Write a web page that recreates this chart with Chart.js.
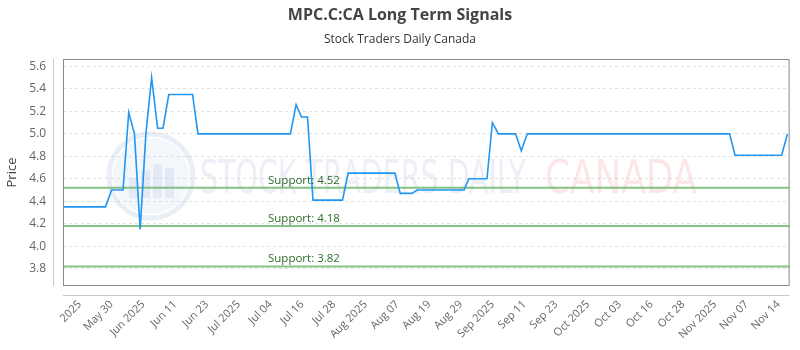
<!DOCTYPE html>
<html><head><meta charset="utf-8">
<script src="https://cdn.jsdelivr.net/npm/chart.js@4/dist/chart.umd.min.js"></script>
<style>html,body{margin:0;padding:0;background:#fff}#wrap{width:800px;height:350px}</style>
</head><body><div id="wrap"><canvas id="c" width="800" height="350"></canvas></div>
<script>
const chartTitle = 'MPC.C:CA Long Term Signals';
const chartSubtitle = 'Stock Traders Daily Canada';
const tickLabels = ['2025','May 30','Jun 2025','Jun 11','Jun 23','Jul 2025','Jul 04','Jul 16','Jul 28','Aug 2025','Aug 07','Aug 19','Aug 29','Sep 2025','Sep 11','Sep 23','Oct 2025','Oct 03','Oct 16','Oct 28','Nov 2025','Nov 07','Nov 14'];
const yTickValues = [3.8, 4.0, 4.2, 4.4, 4.6, 4.8, 5.0, 5.2, 5.4, 5.6];
// price path, x in tick-label units
const priceX = [-0.53, 0.81, 1.00, 1.36, 1.54, 1.72, 1.90, 2.08, 2.26, 2.45, 2.62, 2.80, 3.55, 3.72, 6.63, 6.81, 6.98, 7.17, 7.34, 8.27, 8.45, 9.92, 10.09, 10.46, 10.62, 12.10, 12.25, 12.82, 12.99, 13.18, 13.72, 13.90, 14.09, 20.46, 20.63, 22.10, 22.28];
const priceY = [4.35, 4.35, 4.50, 4.50, 5.19, 5.00, 4.15, 5.00, 5.50, 5.05, 5.05, 5.35, 5.35, 5.00, 5.00, 5.26, 5.15, 5.15, 4.41, 4.41, 4.65, 4.65, 4.47, 4.47, 4.50, 4.50, 4.60, 4.60, 5.10, 5.00, 5.00, 4.85, 5.00, 5.00, 4.81, 4.81, 5.00];
const supportLevels = [4.52, 4.18, 3.82];
const yMin = 3.646, yMax = 5.666;
const xMin = -0.53, xMax = 22.35;

const FONT = '"Open Sans", "DejaVu Sans", sans-serif';

const supportSets = supportLevels.map(l => ({
  label: 'Support ' + l,
  data: [{x: xMin, y: l}, {x: xMax, y: l}],
  borderColor: 'rgba(110,185,110,0.85)',
  borderWidth: 2,
  pointRadius: 0,
  order: 2
}));

const deco = {
  id: 'deco',
  beforeDatasetsDraw(chart) {
    const {ctx} = chart;
    ctx.save();
    // watermark logo
    const cx = 151, cy = 176, r = 42;
    ctx.strokeStyle = 'rgba(185,200,230,0.3)';
    ctx.lineWidth = 5;
    ctx.beginPath(); ctx.arc(cx, cy, r, 0, Math.PI * 2); ctx.stroke();
    ctx.fillStyle = 'rgba(190,205,232,0.18)';
    ctx.beginPath(); ctx.arc(cx, cy, r - 4, 0, Math.PI * 2); ctx.fill();
    ctx.fillStyle = 'rgba(170,190,228,0.22)';
    [[-22, 10], [-10, 18], [2, 24], [14, 20]].forEach(([dx, h]) => {
      ctx.fillRect(cx + dx, cy + 22 - h - 10, 9, h + 10);
    });
    ctx.font = '46px "DejaVu Sans Condensed", "DejaVu Sans", sans-serif';
    ctx.textBaseline = 'alphabetic';
    ctx.textAlign = 'left';
    ctx.fillStyle = 'rgba(195,205,225,0.32)';
    ctx.fillText('STOCK TRADERS DAILY', 200, 193, 326);
    ctx.fillStyle = 'rgba(240,160,160,0.25)';
    ctx.fillText('CANADA', 545, 193, 152);
    ctx.restore();
  },
  afterDatasetsDraw(chart) {
    const {ctx, chartArea: a, scales} = chart;
    ctx.save();
    ctx.font = '11.5px ' + FONT;
    ctx.fillStyle = 'rgb(45,110,45)';
    ctx.textAlign = 'left';
    ctx.textBaseline = 'alphabetic';
    supportLevels.forEach(l => {
      const y = scales.y.getPixelForValue(l);
      ctx.fillText('Support: ' + l.toFixed(2), 268, y - 4);
    });
    // plot box
    ctx.strokeStyle = '#8a8a8a';
    ctx.lineWidth = 1;
    ctx.strokeRect(a.left + 0.5, a.top + 0.5, a.right - a.left - 1, a.bottom - a.top - 1);
    // offset axis lines
    ctx.strokeStyle = '#c8c8c8';
    ctx.beginPath();
    ctx.moveTo(a.left - 9.5, a.top); ctx.lineTo(a.left - 9.5, a.bottom);
    ctx.moveTo(a.left, a.bottom + 9.5); ctx.lineTo(a.right, a.bottom + 9.5);
    ctx.stroke();
    // titles
    ctx.textAlign = 'center';
    ctx.textBaseline = 'middle';
    ctx.fillStyle = '#444';
    ctx.font = 'bold 16px ' + FONT;
    ctx.fillText(chartTitle, 400, 15);
    ctx.fillStyle = '#333';
    ctx.font = '12px ' + FONT;
    ctx.fillText(chartSubtitle, 400, 40);
    ctx.restore();
  }
};

new Chart(document.getElementById('c'), {
  type: 'line',
  data: {
    datasets: [{
      label: 'Price',
      data: priceX.map((x, i) => ({x, y: priceY[i]})),
      borderColor: '#2196f3',
      borderWidth: 1.6,
      pointRadius: 0,
      tension: 0,
      order: 1
    }, ...supportSets]
  },
  options: {
    responsive: false,
    devicePixelRatio: 1,
    animation: false,
    layout: {padding: {top: 59, right: 10, left: 0, bottom: 0}},
    plugins: {legend: {display: false}, tooltip: {enabled: false}, title: {display: false}},
    scales: {
      x: {
        type: 'linear', min: xMin, max: xMax,
        afterBuildTicks: s => { s.ticks = tickLabels.map((_, i) => ({value: i})); },
        afterFit: s => { s.height = 64; },
        ticks: {
          autoSkip: false, maxRotation: 45, minRotation: 45, padding: 12,
          color: '#666', font: {family: FONT, size: 11},
          callback: v => tickLabels[v] ?? ''
        },
        grid: {display: false, drawTicks: false},
        border: {display: false}
      },
      y: {
        min: yMin, max: yMax,
        afterBuildTicks: s => { s.ticks = yTickValues.map(v => ({value: v})); },
        afterFit: s => { s.width = 63; },
        title: {display: true, text: 'Price', color: '#444', font: {family: FONT, size: 13}, padding: {bottom: 4}},
        ticks: {color: '#666', font: {family: FONT, size: 12}, padding: 17, callback: v => v.toFixed(1)},
        grid: {color: '#e2e2e2', drawTicks: false},
        border: {display: false, dash: [3, 3]}
      }
    }
  },
  plugins: [deco]
});
</script></body></html>
